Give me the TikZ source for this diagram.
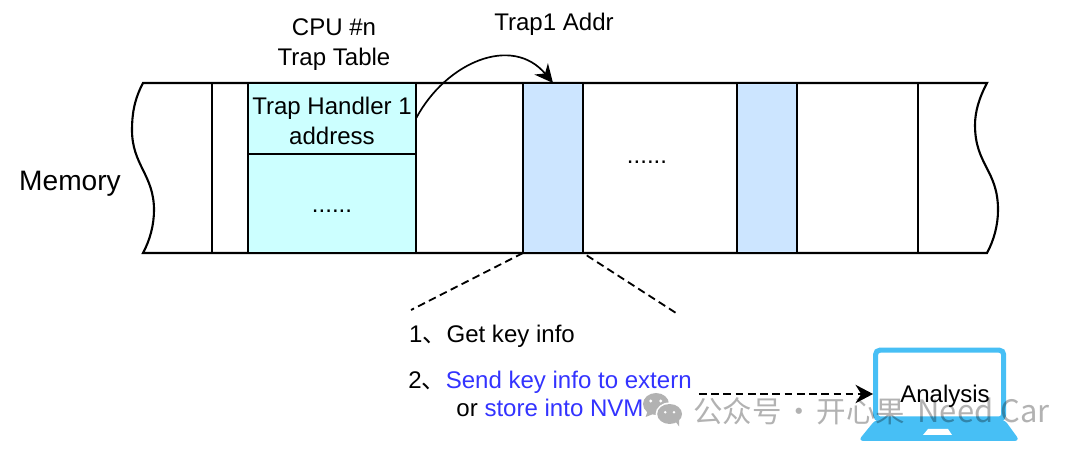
\documentclass[tikz,border=0pt]{standalone}
\usepackage{fontspec}
\setmainfont{Liberation Sans}
\newfontfamily\cjk{Noto Sans CJK SC}
\usetikzlibrary{arrows.meta,positioning,calc}
\definecolor{trapcyan}{HTML}{CCFFFF}
\definecolor{slotblue}{HTML}{CCE5FF}
\definecolor{sendblue}{HTML}{3333FF}
\definecolor{laptopblue}{HTML}{47BFF5}
\tikzset{
  txt/.style={font=\fontsize{17.1}{21.3}\selectfont, align=center, inner sep=0pt},
  cell/.style={txt, draw=black, line width=1.5pt, outer sep=0pt, minimum height=4.25cm},
  tbl/.style={cell, fill=trapcyan, minimum width=4.2cm},
  slot/.style={cell, fill=slotblue, minimum width=1.5cm},
  dotrow/.style={txt, text height=13pt, text depth=0pt},
  arr/.style={-{Stealth[length=4.6mm,width=4.4mm]}, line width=1.2pt},
  guide/.style={line width=1.3pt, dash pattern=on 5.5pt off 3.2pt},
  flow/.style={guide, -{Stealth[length=4.4mm,width=4.6mm]}},
  wmark/.style={fill=black, fill opacity=0.3},
}
\begin{document}
\begin{tikzpicture}
    \useasboundingbox (0,0) rectangle (27,11.325);
    % memory band
    \draw[line width=1.5pt] (3.575,9.25) .. controls (3.35,8.825) and (3.3,8.45) .. (3.3,8.075)
      .. controls (3.3,7.2) and (3.85,6.95) .. (3.85,6.075)
      .. controls (3.85,5.7) and (3.75,5.325) .. (3.575,5) -- (24.675,5)
      .. controls (24.85,5.325) and (24.95,5.7) .. (24.95,6.075)
      .. controls (24.95,7.075) and (24.375,7.2) .. (24.375,8.2)
      .. controls (24.375,8.525) and (24.475,8.875) .. (24.675,9.25) -- cycle;
    \node[cell, minimum width=17.65cm] (span) at (14.125,7.125) {};
    \node[tbl, minimum height=1.775cm] (trapone) at (8.3,8.3625) {};
    \node[tbl, minimum height=2.475cm] (traprest) at (8.3,6.2375) {};
    \node[slot] (slotone) at (13.825,7.125) {};
    \node[slot] (slottwo) at (19.175,7.125) {};
    \node[txt] (handlerlbl) at ([yshift=-1.8pt]trapone.center) {Trap Handler 1\\address};
    \node[dotrow] (tabledots) at (traprest) {......};
    \node[dotrow] (gapdots) at (16.175,7.475) {......};
    % labels
    \node[txt] (tablelbl) at (8.35,10.2) {CPU \#n\\Trap Table};
    \node[txt] (addrlbl) at (13.85,10.725) {Trap1 Addr};
    \node[txt, font=\fontsize{20}{24}\selectfont] (memlbl) at (1.75,6.725) {Memory};
    \node[txt] (stepone) at (12.3,2.925) {1{\cjk 、}Get key info};
    \node[txt] (steptwo) at (13.75,1.475) {2{\cjk 、}\textcolor{sendblue}{Send key info to extern}\\[-1.3pt]or \textcolor{sendblue}{store into NVM}};
    % laptop
    \fill[laptopblue, rounded corners=4pt] (21.9,.85) -- (25.1,.85) -- (25.5,.3) -- (21.45,.3) -- cycle;
    \fill[white] (23.2,.6) -- (23.7,.6) -- (23.8,.45) -- (23.075,.45) -- cycle;
    \node[draw=laptopblue, line width=3.6pt, rounded corners=3pt, minimum width=3.2cm, minimum height=1.72cm, inner sep=0pt] (laptop) at (23.49,1.71) {};
    \node[txt] (analysis) at (23.625,1.425) {Analysis};
    % connectors
    \draw[arr] (trapone.east) to[out=62,in=130,looseness=1.15] (slotone.north);
    \coordinate (leftend) at (10.275,3.575);
    \coordinate (rightend) at (16.9,3.5);
    \draw[guide] (slotone.south west) -- (leftend);
    \draw[guide, dash phase=5.5pt] (slotone.south east) -- (rightend);
    \draw[flow] ([xshift=5pt]steptwo.east) -- (steptwo.east -| laptop.west);
    % watermark
    \fill[wmark] (16.4,1.225) ellipse (.325 and .275) (16.18,1.02) -- (16.14,.9) -- (16.32,.97) -- cycle;
    \fill[white] (16.74,.975) ellipse (.35 and .29);
    \fill[wmark] (16.74,.975) ellipse (.31 and .25) (16.9,.77) -- (16.98,.66) -- (16.98,.82) -- cycle;
    \fill[white] (16.27,1.3) circle (.04) (16.52,1.3) circle (.04) (16.63,1.02) circle (.035) (16.85,1.02) circle (.035);
    \node[anchor=west, inner sep=0pt, text=black, text opacity=0.3, font=\cjk\fontsize{21}{24}\selectfont] (wmarklbl) at (17.325,1.05) {公众号\kern-2.8pt{} · \kern-2.8pt{}开心果\kern4pt{} {\fontsize{22}{24}\selectfont Need Car}};
  \end{tikzpicture}
\end{document}
